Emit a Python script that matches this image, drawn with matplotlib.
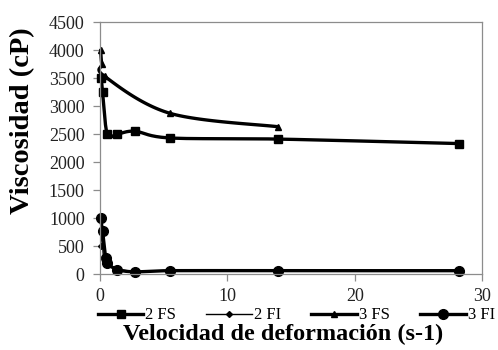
import matplotlib
matplotlib.use("Agg")
import matplotlib.pyplot as plt
import numpy as np
from matplotlib.lines import Line2D

plt.rcParams["font.family"] = ["Liberation Serif", "DejaVu Serif"]

# shear rate (s-1) and viscosity (cP)
fs2_x = [0.1, 0.2, 0.57, 1.36, 2.74, 5.5, 14.0, 28.2]
fs2_y = [3500, 3250, 2500, 2500, 2550, 2430, 2410, 2330]

fi2_x = [0.05, 0.14, 0.28, 0.57, 1.36, 2.74, 5.5, 14.0, 28.2]
fi2_y = [500, 750, 300, 200, 100, 50, 60, 60, 60]

fs3_x = [0.05, 0.14, 0.37, 5.5, 14.0]
fs3_y = [4000, 3750, 3530, 2870, 2630]

fi3_x = [0.05, 0.2, 0.45, 0.57, 1.36, 2.74, 5.5, 14.0, 28.2]
fi3_y = [1000, 770, 280, 190, 80, 40, 60, 60, 60]

labels = ["2 FS", "2 FI", "3 FS", "3 FI"]
xticks = [0, 10, 20, 30]
yticks = list(range(0, 4501, 500))

XMAX, YMAX = 30, 4500
W_PX, H_PX = 382, 252


def smooth(xs, ys, n=30):
    # Excel-like smoothed line (Catmull-Rom) computed in screen proportions
    p = np.column_stack([np.asarray(xs) / XMAX * W_PX, np.asarray(ys) / YMAX * H_PX])
    out = [p[0]]
    for i in range(len(p) - 1):
        p0 = p[i - 1] if i > 0 else p[i]
        p1, p2 = p[i], p[i + 1]
        p3 = p[i + 2] if i + 2 < len(p) else p[i + 1]
        c1 = p1 + (p2 - p0) / 6
        c2 = p2 - (p3 - p1) / 6
        t = np.linspace(0, 1, n)[1:, None]
        seg = ((1 - t) ** 3) * p1 + 3 * ((1 - t) ** 2) * t * c1 + 3 * (1 - t) * t ** 2 * c2 + t ** 3 * p2
        out.extend(seg)
    out = np.array(out)
    return out[:, 0] / W_PX * XMAX, out[:, 1] / H_PX * YMAX


fig = plt.figure(figsize=(4.98, 3.5), dpi=100)
ax = fig.add_axes([0.2008, 0.217, 0.7672, 0.72])

series = [
    (fs2_x, fs2_y, "s", 5.5, 2.4),
    (fi2_x, fi2_y, "D", 3.0, 1.0),
    (fs3_x, fs3_y, "^", 4.0, 2.4),
    (fi3_x, fi3_y, "o", 7.0, 2.4),
]

handles = []
for (xs, ys, mk, ms, lw), lab in zip(series, labels):
    sx, sy = smooth(xs, ys)
    ax.plot(sx, sy, color="black", lw=lw, solid_capstyle="round", clip_on=False)
    ax.plot(xs, ys, ls="none", marker=mk, ms=ms, color="black", clip_on=False)
    handles.append(Line2D([], [], color="black", lw=lw, marker=mk, ms=ms))

ax.set_xlim(0, XMAX)
ax.set_ylim(0, YMAX)
ax.set_xticks(xticks)
ax.set_yticks(yticks)
for s in ax.spines.values():
    s.set_color("#8c8c8c")
    s.set_linewidth(0.9)
ax.tick_params(axis="both", direction="out", length=5, width=0.9, color="#8c8c8c",
               labelsize=13, labelcolor="#222222")
ax.tick_params(axis="y", pad=6)
ax.tick_params(axis="x", pad=5)

fig.text(0.046, 0.655, "Viscosidad (cP)", rotation=90, ha="center", va="center",
         fontsize=20.5, fontweight="bold")
fig.text(0.569, 0.045, "Velocidad de deformación (s-1)", ha="center", va="center",
         fontsize=17.5, fontweight="bold")

fig.legend(handles, labels, loc="center", bbox_to_anchor=(0.595, 0.099), ncol=4,
           frameon=False, fontsize=12, handlelength=2.75, handletextpad=0.12,
           columnspacing=1.8, borderaxespad=0, borderpad=0)

fig.savefig("out.png", dpi=100)
